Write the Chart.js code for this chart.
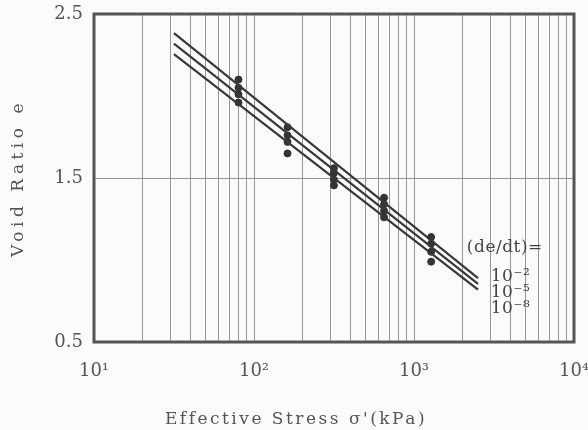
<!DOCTYPE html>
<html>
<head>
<meta charset="utf-8">
<title>Void ratio vs effective stress</title>
<script src="https://cdn.jsdelivr.net/npm/chart.js@4"></script>
<style>
  body { margin: 0; background: #fbfbfb; }
</style>
</head>
<body>
<canvas id="mychart" width="588" height="430"></canvas>
<script>
var xTickValues = [10, 100, 1000, 10000]
var xTickLabels = ['10¹', '10²', '10³', '10⁴']
var yTickValues = [0.5, 1.5, 2.5]

// load steps (kPa) and the void ratios read at each step
var loadStress = [80, 162, 316, 650, 1280]
var voidAt80 = [2.10, 2.05, 2.01, 1.96]
var voidAt162 = [1.81, 1.76, 1.72, 1.65]
var voidAt316 = [1.56, 1.53, 1.49, 1.455]
var voidAt650 = [1.38, 1.34, 1.30, 1.26]
var voidAt1280 = [1.14, 1.10, 1.05, 0.99]

// isotaches, one per strain rate
var lineStress = [31.6, 2512]
var lineRate2 = [2.384, 0.89]
var lineRate5 = [2.32, 0.855]
var lineRate8 = [2.255, 0.82]
var rateHeader = '(de/dt)='
var rateLabels = ['10⁻²', '10⁻⁵', '10⁻⁸']

var ink = '#383838'
var textGray = '#555'
var serif = "'DejaVu Serif', 'Liberation Serif', serif"

// grid lines at 1..9 of every decade
var gridValues = []
for (var d = 0; d < xTickValues.length - 1; d++) {
    for (var k = 1; k < 10; k++) gridValues.push(xTickValues[d] * k)
}
gridValues.push(xTickValues[xTickValues.length - 1])

var points = []
var clusters = [voidAt80, voidAt162, voidAt316, voidAt650, voidAt1280]
clusters.forEach(function(list, i){
    list.forEach(function(e){ points.push({x: loadStress[i], y: e}) })
})

function lineData(ys) {
    return lineStress.map(function(s, i){ return {x: s, y: ys[i]} })
}

// titles are letter-spaced in the original; x title sits left of centre
var titleStyle = {x: {spacing: '2.5px', shift: -38}, y: {spacing: '4.5px', shift: 0}}

var framePlugin = {
    id: 'frame',
    beforeDraw: function(chart) {
        ['x', 'y'].forEach(function(id){
            var s = chart.scales[id]
            if (s._spaced) return
            var orig = s.drawTitle.bind(s)
            s.drawTitle = function(){
                var c = chart.ctx
                c.save()
                c.letterSpacing = titleStyle[id].spacing
                c.translate(titleStyle[id].shift, 0)
                orig()
                c.restore()
            }
            s._spaced = true
        })
    },
    afterDraw: function(chart) {
        var a = chart.chartArea
        var ctx = chart.ctx
        ctx.save()
        ctx.strokeStyle = '#555'
        ctx.lineWidth = 3
        ctx.strokeRect(a.left, a.top, a.right - a.left, a.bottom - a.top)

        // strain rate labels next to the line ends
        var xs = chart.scales.x, ys = chart.scales.y
        ctx.fillStyle = '#444'
        ctx.font = '17px ' + serif
        ctx.letterSpacing = '0.5px'
        ctx.textBaseline = 'middle'
        ctx.textAlign = 'left'
        ctx.fillText(rateHeader, xs.getPixelForValue(2140), ys.getPixelForValue(1.075))
        var labelY = [0.90, 0.80, 0.705]
        rateLabels.forEach(function(t, i){
            ctx.fillText(t, xs.getPixelForValue(3020), ys.getPixelForValue(labelY[i]))
        })
        ctx.restore()
    }
}

var mychart = document.getElementById('mychart').getContext('2d')
var chart = new Chart(mychart, {
    type: 'scatter',
    data: {
        datasets: [
            {label: '10^-2', data: lineData(lineRate2), showLine: true, borderColor: ink, borderWidth: 2.2, pointRadius: 0},
            {label: '10^-5', data: lineData(lineRate5), showLine: true, borderColor: ink, borderWidth: 2.2, pointRadius: 0},
            {label: '10^-8', data: lineData(lineRate8), showLine: true, borderColor: ink, borderWidth: 2.2, pointRadius: 0},
            {label: 'measured', data: points, backgroundColor: '#333', borderColor: '#333', pointRadius: 3.5}
        ]
    },
    options: {
        responsive: false,
        animation: false,
        layout: {padding: {top: 14, right: 14, left: 0, bottom: 0}},
        plugins: {legend: {display: false}, tooltip: {enabled: false}},
        scales: {
            x: {
                type: 'logarithmic',
                min: 10,
                max: 10000,
                afterBuildTicks: function(scale){
                    scale.ticks = gridValues.map(function(v){ return {value: v} })
                },
                afterFit: function(scale){
                    scale.height = 88
                    scale.paddingLeft = 0
                    scale.paddingRight = 0
                },
                grid: {color: '#969696', lineWidth: 1, drawTicks: false},
                border: {display: false},
                ticks: {
                    autoSkip: false,
                    maxRotation: 0,
                    padding: 19,
                    color: textGray,
                    font: {family: serif, size: 18},
                    callback: function(value){
                        var i = xTickValues.indexOf(value)
                        return i >= 0 ? xTickLabels[i] : ''
                    }
                },
                title: {
                    display: true,
                    text: "Effective Stress σ'(kPa)",
                    color: textGray,
                    font: {family: serif, size: 17},
                    padding: {top: 0, bottom: 0}
                }
            },
            y: {
                min: 0.5,
                max: 2.5,
                afterBuildTicks: function(scale){
                    scale.ticks = yTickValues.map(function(v){ return {value: v} })
                },
                afterFit: function(scale){
                    scale.width = 94
                    scale.paddingTop = 0
                    scale.paddingBottom = 0
                },
                grid: {color: '#969696', lineWidth: 1, drawTicks: false},
                border: {display: false},
                ticks: {
                    padding: 11,
                    color: textGray,
                    font: {family: serif, size: 18},
                    callback: function(value){ return value.toFixed(1) }
                },
                title: {
                    display: true,
                    text: 'Void Ratio e',
                    color: textGray,
                    font: {family: serif, size: 17},
                    padding: {top: 8, bottom: 0}
                }
            }
        }
    },
    plugins: [framePlugin]
})
</script>
</body>
</html>
